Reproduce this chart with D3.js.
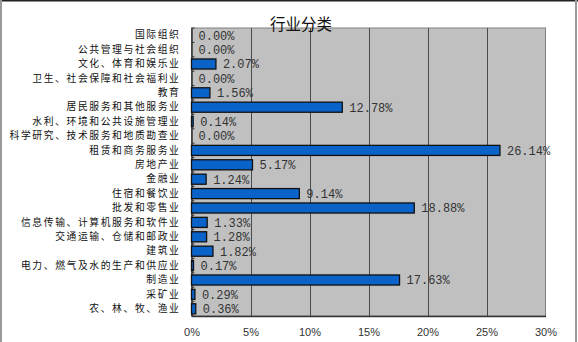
<!DOCTYPE html>
<html>
<head>
<meta charset="utf-8">
<script src="https://cdn.jsdelivr.net/npm/d3@7"></script>
<style>
  html, body { margin: 0; padding: 0; background: #fff; }
  svg { display: block; }
</style>
</head>
<body>
<script>
// Industry breakdown, percentage share per category
const title = "行业分类";
const categories = [
  "国际组织",
  "公共管理与社会组织",
  "文化、体育和娱乐业",
  "卫生、社会保障和社会福利业",
  "教育",
  "居民服务和其他服务业",
  "水利、环境和公共设施管理业",
  "科学研究、技术服务和地质勘查业",
  "租赁和商务服务业",
  "房地产业",
  "金融业",
  "住宿和餐饮业",
  "批发和零售业",
  "信息传输、计算机服务和软件业",
  "交通运输、仓储和邮政业",
  "建筑业",
  "电力、燃气及水的生产和供应业",
  "制造业",
  "采矿业",
  "农、林、牧、渔业"
];
const shares = [
  0.00, 0.00, 2.07, 0.00, 1.56, 12.78, 0.14, 0.00, 26.14, 5.17,
  1.24, 9.14, 18.88, 1.33, 1.28, 1.82, 0.17, 17.63, 0.29, 0.36
];
const xTicks = [0, 5, 10, 15, 20, 25, 30];

const W = 578, H = 342;
const plot = { left: 191.5, right: 545.5, top: 28, bottom: 316 };

const svg = d3.select("body").append("svg")
  .attr("width", W).attr("height", H);

// outer frame
svg.append("line").attr("x1", 0).attr("x2", W).attr("y1", 0.5).attr("y2", 0.5)
  .attr("stroke", "#222").attr("stroke-width", 2);
svg.append("line").attr("x1", 1).attr("x2", 1).attr("y1", 0).attr("y2", H)
  .attr("stroke", "#999").attr("stroke-width", 2);
svg.append("line").attr("x1", 576).attr("x2", 576).attr("y1", 0).attr("y2", H)
  .attr("stroke", "#999").attr("stroke-width", 2);

const x = d3.scaleLinear().domain([0, 30]).range([plot.left, plot.right]);
const y = d3.scaleBand().domain(categories).range([plot.top, plot.bottom]).paddingInner(0.3).paddingOuter(0.15);

// plot area background
svg.append("rect")
  .attr("x", plot.left).attr("y", plot.top)
  .attr("width", plot.right - plot.left).attr("height", plot.bottom - plot.top)
  .attr("fill", "#c0c0c0").attr("stroke", "#808080").attr("stroke-width", 1);

// vertical gridlines
svg.append("g").selectAll("line")
  .data(xTicks.filter(t => t > 0 && t < 30))
  .join("line")
  .attr("x1", d => Math.round(x(d)) + 0.5).attr("x2", d => Math.round(x(d)) + 0.5)
  .attr("y1", plot.top).attr("y2", plot.bottom)
  .attr("stroke", "#4a4a4a").attr("stroke-width", 1);

// category axis
const yAxis = d3.axisLeft(y).tickSize(0).tickPadding(11);
const gy = svg.append("g").attr("transform", `translate(${plot.left},0)`).call(yAxis);
gy.select(".domain").attr("stroke", "#333").attr("stroke-width", 1.5);
gy.selectAll("text")
  .attr("font-family", "'Noto Sans CJK SC', sans-serif")
  .attr("font-size", "9.8px")
  .attr("letter-spacing", "1.6px")
  .attr("fill", "#111");

// small boundary ticks on the category axis
svg.append("g").selectAll("line")
  .data(d3.range(categories.length + 1))
  .join("line")
  .attr("x1", plot.left).attr("x2", plot.left + 3)
  .attr("y1", i => plot.top + i * (plot.bottom - plot.top) / categories.length)
  .attr("y2", i => plot.top + i * (plot.bottom - plot.top) / categories.length)
  .attr("stroke", "#333").attr("stroke-width", 1);

// value axis
const xAxis = d3.axisBottom(x).tickValues(xTicks).tickFormat(d => d + "%").tickSize(0).tickPadding(12);
const gx = svg.append("g").attr("transform", `translate(0,${plot.bottom})`).call(xAxis);
gx.select(".domain").attr("stroke", "#333").attr("stroke-width", 1.5);
gx.selectAll("text")
  .attr("font-family", "'Liberation Sans Narrow', 'Liberation Sans', Arial, sans-serif")
  .attr("font-size", "11px").attr("fill", "#333");

// bars
svg.append("g").selectAll("rect")
  .data(categories.map((c, i) => ({ c, v: shares[i] })).filter(d => d.v > 0))
  .join("rect")
  .attr("x", x(0))
  .attr("y", d => y(d.c))
  .attr("width", d => Math.max(x(d.v) - x(0), 1.5))
  .attr("height", y.bandwidth())
  .attr("fill", "#0a63c9")
  .attr("stroke", "#111").attr("stroke-width", 1.3);

// value labels
svg.append("g").selectAll("text")
  .data(categories.map((c, i) => ({ c, v: shares[i] })))
  .join("text")
  .attr("x", d => x(d.v) + 7)
  .attr("y", d => y(d.c) + y.bandwidth() / 2)
  .attr("dy", "0.36em")
  .attr("font-family", "'Liberation Mono', 'DejaVu Sans Mono', monospace")
  .attr("font-size", "12px").attr("fill", "#333")
  .text(d => d.v.toFixed(2) + "%");

// title
svg.append("text")
  .attr("x", 301).attr("y", 30)
  .attr("text-anchor", "middle")
  .attr("font-family", "'Noto Sans CJK SC', sans-serif")
  .attr("font-size", "15.5px").attr("fill", "#111")
  .text(title);
</script>
</body>
</html>
